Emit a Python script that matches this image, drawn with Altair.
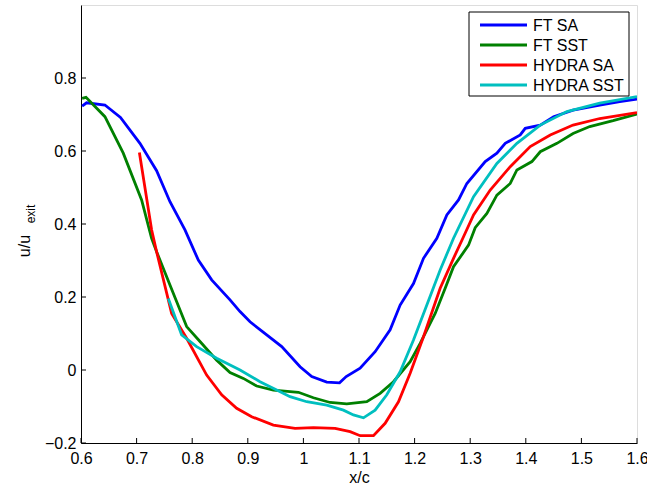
import altair as alt
import pandas as pd

names = ["FT SA", "FT SST", "HYDRA SA", "HYDRA SST"]
colors = ["#0000FF", "#008000", "#FF0000", "#00BFBF"]

ft_sa_x = [0.602, 0.610, 0.643, 0.671, 0.706, 0.736, 0.760, 0.787, 0.811, 0.835, 0.868, 0.886,
           0.904, 0.934, 0.961, 0.994, 1.015, 1.042, 1.065, 1.077, 1.102, 1.129, 1.156, 1.174,
           1.198, 1.216, 1.240, 1.258, 1.279, 1.294, 1.327, 1.348, 1.363, 1.390, 1.399, 1.426,
           1.450, 1.485, 1.533, 1.569, 1.600]
ft_sa_y = [0.723, 0.732, 0.726, 0.692, 0.621, 0.546, 0.461, 0.384, 0.301, 0.247, 0.192, 0.160,
           0.132, 0.096, 0.064, 0.009, -0.018, -0.033, -0.035, -0.018, 0.005, 0.050, 0.110, 0.178,
           0.237, 0.306, 0.361, 0.425, 0.466, 0.511, 0.571, 0.594, 0.621, 0.644, 0.662, 0.671,
           0.694, 0.712, 0.726, 0.735, 0.742]

ft_sst_x = [0.602, 0.609, 0.643, 0.676, 0.709, 0.727, 0.736, 0.760, 0.790, 0.814, 0.844, 0.868,
            0.892, 0.916, 0.946, 0.991, 1.018, 1.048, 1.078, 1.114, 1.138, 1.162, 1.192, 1.210,
            1.237, 1.255, 1.270, 1.297, 1.309, 1.330, 1.348, 1.372, 1.384, 1.411, 1.426, 1.456,
            1.485, 1.515, 1.557, 1.600]
ft_sst_y = [0.744, 0.747, 0.694, 0.594, 0.466, 0.361, 0.324, 0.233, 0.119, 0.078, 0.027, -0.007,
            -0.023, -0.044, -0.055, -0.061, -0.076, -0.089, -0.093, -0.087, -0.064, -0.032, 0.023, 0.073,
            0.155, 0.224, 0.283, 0.342, 0.390, 0.429, 0.479, 0.511, 0.548, 0.571, 0.598, 0.621,
            0.648, 0.667, 0.683, 0.701]

hydra_sa_x = [0.705, 0.727, 0.736, 0.763, 0.790, 0.826, 0.853, 0.880, 0.907, 0.946, 0.985, 1.018,
              1.057, 1.084, 1.102, 1.126, 1.147, 1.171, 1.192, 1.216, 1.246, 1.270, 1.288, 1.306,
              1.336, 1.372, 1.408, 1.444, 1.485, 1.533, 1.600]
hydra_sa_y = [0.596, 0.384, 0.324, 0.155, 0.087, -0.014, -0.068, -0.105, -0.128, -0.151, -0.160, -0.158,
              -0.160, -0.169, -0.180, -0.180, -0.146, -0.087, -0.009, 0.091, 0.224, 0.306, 0.365, 0.425,
              0.493, 0.557, 0.612, 0.644, 0.671, 0.689, 0.705]

hydra_sst_x = [0.757, 0.781, 0.808, 0.844, 0.886, 0.922, 0.952, 0.976, 1.006, 1.042, 1.072, 1.090,
               1.108, 1.129, 1.150, 1.174, 1.198, 1.222, 1.246, 1.270, 1.306, 1.348, 1.384, 1.426,
               1.474, 1.533, 1.600]
hydra_sst_y = [0.196, 0.096, 0.064, 0.032, 0.000, -0.032, -0.055, -0.073, -0.087, -0.096, -0.110, -0.123,
               -0.131, -0.110, -0.068, -0.005, 0.082, 0.178, 0.274, 0.361, 0.475, 0.566, 0.621, 0.671,
               0.708, 0.731, 0.749]

x_ticks = [0.6, 0.7, 0.8, 0.9, 1.0, 1.1, 1.2, 1.3, 1.4, 1.5, 1.6]
y_ticks = [-0.2, 0.0, 0.2, 0.4, 0.6, 0.8]

series = [(names[0], ft_sa_x, ft_sa_y), (names[1], ft_sst_x, ft_sst_y),
          (names[2], hydra_sa_x, hydra_sa_y), (names[3], hydra_sst_x, hydra_sst_y)]
rows = []
for name, xs, ys in series:
    for i, (a, b) in enumerate(zip(xs, ys)):
        rows.append({"series": name, "x": a, "y": b, "i": i})
df = pd.DataFrame(rows)

W, H = 556, 438
FONT = "Liberation Sans"
FS = 16

xscale = alt.Scale(domain=[0.6, 1.6], nice=False, zero=False)
yscale = alt.Scale(domain=[-0.2, 1.0], nice=False, zero=False)

lines = alt.Chart(df).mark_line(strokeWidth=2.8, clip=True).encode(
    x=alt.X("x:Q", scale=xscale,
            axis=alt.Axis(values=x_ticks, format="~g", ticks=False, labelPadding=7,
                          labelFlush=False, labelOverlap=False,
                          labelFont=FONT, labelFontSize=FS, labelColor="black",
                          title="x/c", titleFont=FONT, titleFontWeight="normal", titleFontSize=FS,
                          titleColor="black", titlePadding=3, grid=False,
                          domainColor="black")),
    y=alt.Y("y:Q", scale=yscale,
            axis=alt.Axis(values=y_ticks, format="~g", ticks=False, labelPadding=5,
                          labelFlush=False, labelOverlap=False,
                          labelFont=FONT, labelFontSize=FS, labelColor="black",
                          title=None, grid=False, domainColor="black")),
    color=alt.Color("series:N", scale=alt.Scale(domain=names, range=colors), legend=None),
    order="i:Q",
)

xt = alt.Chart(pd.DataFrame({"x": x_ticks})).mark_rule(color="black", strokeWidth=1).encode(
    x="x:Q", y=alt.value(H), y2=alt.value(H - 5))
yt = alt.Chart(pd.DataFrame({"y": y_ticks})).mark_rule(color="black", strokeWidth=1).encode(
    y="y:Q", x=alt.value(0), x2=alt.value(5))

one = pd.DataFrame({"a": [0]})
ytitle_main = alt.Chart(one).mark_text(angle=270, align="center", baseline="alphabetic",
                                       font=FONT, fontSize=FS, color="black").encode(
    x=alt.value(-51), y=alt.value(241), text=alt.value("u/u"))
ytitle_sub = alt.Chart(one).mark_text(angle=270, align="center", baseline="alphabetic",
                                      font=FONT, fontSize=12, color="black").encode(
    x=alt.value(-46), y=alt.value(209), text=alt.value("exit"))

legend_box = alt.Chart(one).mark_rect(fill="white", stroke="black", strokeWidth=1).encode(
    x=alt.value(388), x2=alt.value(548), y=alt.value(7), y2=alt.value(91))
legend_layers = [legend_box]
for k, (name, col) in enumerate(zip(names, colors)):
    yy = 20 + 20 * k
    legend_layers.append(alt.Chart(one).mark_rule(color=col, strokeWidth=2.8).encode(
        x=alt.value(399), x2=alt.value(446), y=alt.value(yy)))
    legend_layers.append(alt.Chart(one).mark_text(align="left", baseline="middle", font=FONT,
                                                  fontSize=FS, color="black").encode(
        x=alt.value(452), y=alt.value(yy + 1), text=alt.value(name)))

chart = alt.layer(lines, xt, yt, ytitle_main, ytitle_sub, *legend_layers).properties(
    width=W, height=H,
    autosize=alt.AutoSizeParams(type="none"),
    padding={"left": 81, "top": 5, "right": 10, "bottom": 44},
).configure_view(stroke=None).configure(background="white")

chart.save("out.html", embed_options={"renderer": "svg", "actions": False})
